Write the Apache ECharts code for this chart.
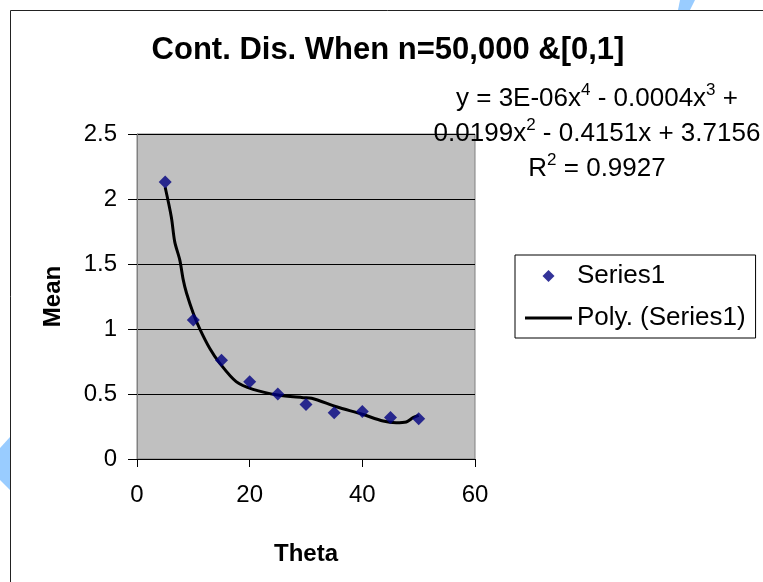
<!DOCTYPE html>
<html>
<head>
<meta charset="utf-8">
<script src="https://cdn.jsdelivr.net/npm/echarts@6/dist/echarts.min.js"></script>
<style>
html,body{margin:0;padding:0;background:#fff;}
#chart{width:763px;height:582px;}
</style>
</head>
<body>
<div id="chart"></div>
<script>
// Data
var thetaValues = [5, 10, 15, 20, 25, 30, 35, 40, 45, 50];
var meanValues = [2.13, 1.07, 0.76, 0.595, 0.50, 0.42, 0.355, 0.365, 0.32, 0.31];
// Polynomial trend line (Poly. (Series1))
var trendX = [5, 6.1, 6.7, 7.6, 8.2, 8.8, 10, 11.1, 12.9, 14.7, 17.6, 20.6, 25, 29.5, 31, 35.4, 40, 43.7, 46, 47.8, 49, 50];
var trendY = [2.09, 1.86, 1.67, 1.53, 1.38, 1.275, 1.12, 1.005, 0.852, 0.736, 0.595, 0.536, 0.492, 0.472, 0.467, 0.402, 0.344, 0.292, 0.279, 0.285, 0.318, 0.336];
var xTicks = {min: 0, max: 60, interval: 20};
var yTicks = {min: 0, max: 2.5, interval: 0.5};
var titleText = 'Cont. Dis. When n=50,000 &[0,1]';
var xName = 'Theta';
var yName = 'Mean';
var seriesName = 'Series1';
var trendName = 'Poly. (Series1)';
var eqLines = ['y = 3E-06x{sup|4} - 0.0004x{sup|3} +', '0.0199x{sup|2} - 0.4151x + 3.7156', 'R{sup|2} = 0.9927'];

var FONT = 'Liberation Sans';
var chart = echarts.init(document.getElementById('chart'), null, {renderer: 'canvas'});

var scatterData = thetaValues.map(function (t, i) { return [t, meanValues[i]]; });
var trendData = trendX.map(function (t, i) { return [t, trendY[i]]; });

chart.setOption({
  animation: false,
  backgroundColor: '#ffffff',
  grid: {
    left: 137, top: 134, width: 338, height: 325,
    show: true, backgroundColor: '#C0C0C0', borderColor: '#808080', borderWidth: 1
  },
  xAxis: {
    type: 'value', min: xTicks.min, max: xTicks.max, interval: xTicks.interval,
    name: xName, nameLocation: 'middle', nameGap: 83,
    nameTextStyle: {fontFamily: FONT, fontSize: 24, fontWeight: 'bold', color: '#000'},
    axisLine: {show: true, onZero: false, lineStyle: {color: '#000', width: 1}},
    axisTick: {show: true, inside: false, length: 8, lineStyle: {color: '#000'}},
    axisLabel: {fontFamily: FONT, fontSize: 24, color: '#000', margin: 24},
    splitLine: {show: false}
  },
  yAxis: {
    type: 'value', min: yTicks.min, max: yTicks.max, interval: yTicks.interval,
    name: yName, nameLocation: 'middle', nameGap: 72, nameRotate: 90,
    nameTextStyle: {fontFamily: FONT, fontSize: 24, fontWeight: 'bold', color: '#000'},
    axisLine: {show: true, onZero: false, lineStyle: {color: '#808080', width: 1}},
    axisTick: {show: true, inside: false, length: 9, lineStyle: {color: '#000'}},
    axisLabel: {fontFamily: FONT, fontSize: 24, color: '#000', margin: 20},
    splitLine: {show: true, lineStyle: {color: '#000', width: 1}}
  },
  legend: {
    orient: 'vertical', left: 515, top: 255,
    padding: [7, 10, 6, 10], itemGap: 14, itemWidth: 47, itemHeight: 12,
    borderColor: '#000', borderWidth: 1, backgroundColor: '#fff',
    textStyle: {fontFamily: FONT, fontSize: 26, color: '#000', lineHeight: 28},
    data: [
      {name: seriesName, icon: 'path://M0,0 L0,0 M47,12 L47,12 M23.5,0 L29.5,6 L23.5,12 L17.5,6 Z'},
      {name: trendName, icon: 'path://M0,0 L47,0 L47,3 L0,3 Z'}
    ]
  },
  series: [
    {
      name: trendName, type: 'line', data: trendData, smooth: 0.3,
      symbol: 'none', showSymbol: false,
      lineStyle: {color: '#000', width: 3}, itemStyle: {color: '#000'}, z: 2
    },
    {
      name: seriesName, type: 'scatter', data: scatterData,
      symbol: 'diamond', symbolSize: 13,
      itemStyle: {color: '#000080'}, z: 3
    }
  ],
  graphic: [
    {type: 'rect', shape: {x: 10.5, y: 10.5, width: 800, height: 600}, style: {fill: null, stroke: '#222', lineWidth: 1}, z: 100},
    {type: 'polygon', shape: {points: [[680, 0], [695, 0], [690, 10], [678, 10]]}, style: {fill: '#99CCFF'}, z: 99},
    {type: 'polygon', shape: {points: [[10, 437], [0, 448], [0, 480], [10, 490]]}, style: {fill: '#99CCFF'}, z: 99},
    {type: 'text', x: 388, y: 50, style: {text: titleText, font: 'bold 31px "' + FONT + '"', fill: '#000', align: 'center', verticalAlign: 'middle'}, z: 100},
    {type: 'text', x: 597, y: 134, style: {
      text: eqLines.join('\n'), font: '26px "' + FONT + '"', fill: '#000', align: 'center', verticalAlign: 'middle', lineHeight: 35,
      rich: {sup: {fontSize: 17, fontFamily: FONT, verticalAlign: 'top', lineHeight: 22, padding: [0, 0, 0, 0]}}
    }, z: 100}
  ]
});
</script>
</body>
</html>
